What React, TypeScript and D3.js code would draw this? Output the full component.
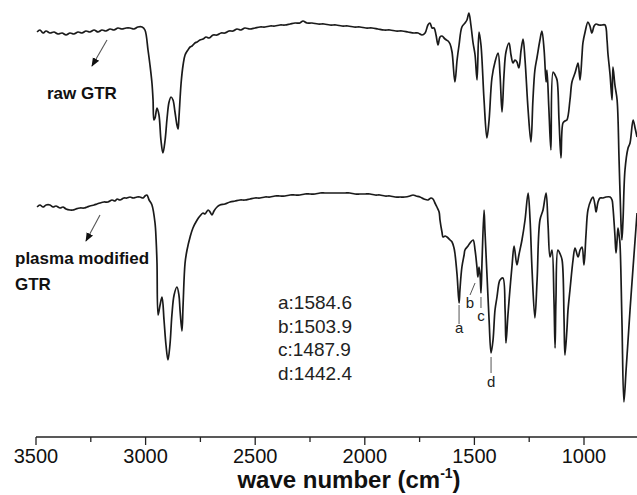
import React from "react";
import * as d3 from "d3";

// [wave number (cm^-1), transmittance (a.u.)]
const rawGTR: [number, number][] = [
  [3495,405],[3482,407],[3468,404],[3454,406],[3436,404],[3418,405],[3400,403],[3381,404],[3363,402],[3345,404],
  [3327,403],[3308,405],[3290,404],[3272,406],[3254,405],[3235,407],[3217,405],[3199,407],[3181,406],[3162,408],
  [3144,407],[3126,409],[3108,408],[3089,409],[3071,409],[3053,408],[3035,410],[3016,410],[3003,407],[2989,387],
  [2980,372],[2971,354],[2966,337],[2962,317],[2957,319],[2948,329],[2939,322],[2930,297],[2921,284],[2911,297],
  [2902,319],[2893,335],[2884,340],[2875,337],[2866,325],[2857,312],[2852,308],[2848,319],[2838,354],[2829,372],
  [2820,382],[2807,387],[2797,390],[2788,391],[2775,394],[2765,395],[2752,397],[2738,398],[2724,400],[2711,399],
  [2692,402],[2674,402],[2656,404],[2638,404],[2619,406],[2601,406],[2583,408],[2565,407],[2547,409],[2524,408],
  [2501,409],[2478,410],[2455,410],[2432,411],[2410,411],[2387,412],[2364,412],[2341,413],[2318,414],[2296,414],
  [2282,416],[2264,414],[2241,414],[2213,413],[2186,413],[2159,412],[2131,412],[2104,411],[2077,411],[2049,410],
  [2022,410],[1995,409],[1967,409],[1940,408],[1912,407],[1885,407],[1858,406],[1830,406],[1803,405],[1776,404],
  [1757,404],[1739,402],[1725,404],[1712,412],[1703,414],[1693,409],[1684,409],[1675,402],[1666,392],[1657,400],
  [1648,401],[1634,398],[1620,396],[1611,393],[1602,385],[1589,355],[1579,377],[1570,392],[1557,410],[1543,414],
  [1534,417],[1525,424],[1516,412],[1506,394],[1497,382],[1488,357],[1479,405],[1470,392],[1456,337],[1443,299],
  [1433,317],[1420,359],[1406,375],[1392,384],[1383,362],[1374,325],[1365,362],[1356,385],[1342,394],[1333,382],
  [1324,374],[1315,377],[1306,375],[1297,369],[1287,387],[1278,398],[1269,377],[1255,327],[1242,295],[1233,337],
  [1224,367],[1214,380],[1201,397],[1192,406],[1182,387],[1173,355],[1169,367],[1160,327],[1151,287],[1141,365],
  [1132,362],[1123,357],[1114,317],[1105,279],[1096,314],[1087,316],[1078,317],[1064,337],[1055,355],[1041,364],
  [1032,371],[1027,374],[1018,357],[1009,382],[1005,394],[995,405],[982,415],[973,411],[964,404],[954,411],
  [945,413],[932,412],[918,412],[904,412],[895,397],[891,384],[881,362],[872,337],[868,370],[859,352],
  [849,337],[840,277],[831,212],[827,197],[822,217],[813,267],[799,289],[790,294],[776,317],[767,309],[758,300],
];

const plasmaGTR: [number, number][] = [
  [3495,230],[3482,232],[3468,230],[3454,232],[3436,232],[3422,230],[3409,231],[3390,229],[3377,230],[3363,228],
  [3345,227],[3331,227],[3318,228],[3299,229],[3281,229],[3267,230],[3254,231],[3235,232],[3222,233],[3208,234],
  [3190,235],[3172,235],[3153,237],[3140,236],[3130,238],[3117,237],[3099,239],[3085,239],[3071,240],[3057,239],
  [3039,240],[3026,240],[3012,239],[3003,241],[2994,242],[2984,237],[2971,232],[2957,214],[2952,197],[2948,174],
  [2943,122],[2934,132],[2925,140],[2916,117],[2907,92],[2898,77],[2889,92],[2880,122],[2870,142],[2857,150],
  [2848,142],[2843,127],[2834,106],[2829,132],[2820,174],[2811,187],[2797,200],[2784,209],[2765,217],[2752,221],
  [2738,224],[2729,223],[2715,227],[2706,225],[2697,222],[2688,226],[2674,230],[2661,232],[2638,233],[2615,235],
  [2592,236],[2569,237],[2547,237],[2524,238],[2501,239],[2478,239],[2455,240],[2432,240],[2410,241],[2387,241],
  [2364,241],[2341,242],[2318,242],[2296,242],[2273,243],[2250,243],[2227,243],[2204,244],[2182,244],[2159,244],
  [2136,244],[2113,244],[2090,244],[2068,244],[2045,243],[2022,243],[1999,243],[1976,243],[1953,242],[1931,242],
  [1908,241],[1885,241],[1862,240],[1839,240],[1817,240],[1794,241],[1780,242],[1766,241],[1748,240],[1730,238],
  [1712,237],[1698,239],[1689,238],[1680,234],[1671,230],[1661,225],[1657,217],[1648,205],[1643,200],[1634,201],
  [1625,200],[1611,197],[1602,195],[1593,189],[1589,184],[1579,162],[1570,134],[1566,147],[1557,170],[1547,182],
  [1543,187],[1529,191],[1520,194],[1506,197],[1497,187],[1488,169],[1484,160],[1479,170],[1474,162],[1470,144],
  [1465,177],[1456,227],[1452,207],[1443,164],[1433,117],[1424,84],[1415,97],[1406,127],[1397,140],[1388,154],
  [1383,157],[1370,159],[1360,127],[1356,94],[1347,122],[1338,147],[1328,172],[1319,191],[1306,172],[1297,182],
  [1283,197],[1269,217],[1255,244],[1246,217],[1237,167],[1224,119],[1214,157],[1201,217],[1187,227],[1173,244],
  [1164,212],[1155,180],[1146,187],[1137,137],[1132,89],[1128,137],[1119,187],[1109,183],[1100,177],[1091,117],
  [1087,82],[1078,107],[1073,127],[1064,147],[1050,177],[1041,189],[1027,180],[1018,187],[1009,190],[1000,172],
  [991,202],[982,227],[968,237],[959,240],[950,232],[945,225],[936,235],[927,239],[913,239],[900,240],
  [881,240],[872,237],[868,230],[859,202],[854,184],[849,197],[845,209],[840,202],[836,194],[827,117],
  [818,35],[808,67],[799,97],[790,127],[776,170],[767,197],[758,224],
];

const majorTicks = [3500, 3000, 2500, 2000, 1500, 1000];
const minorTicks = [3250, 2750, 2250, 1750, 1250];

const peakLegend = ["a:1584.6", "b:1503.9", "c:1487.9", "d:1442.4"];

// marker letter, leader line [wave, value] -> [wave, value], label [wave, value]
const peakMarks: { letter: string; from: [number, number]; to: [number, number]; label: [number, number] }[] = [
  { letter: "a", from: [1570, 132], to: [1570, 113], label: [1570, 104] },
  { letter: "b", from: [1497, 154], to: [1520, 142], label: [1520, 129] },
  { letter: "c", from: [1470, 140], to: [1470, 129], label: [1470, 116] },
  { letter: "d", from: [1424, 80], to: [1424, 64], label: [1424, 50] },
];

const W = 637;
const H = 495;
const FONT = "'Liberation Sans', Arial, Helvetica, sans-serif";

export default function App() {
  const x = d3.scaleLinear().domain([3500, 1000]).range([36, 584]);
  const y = d3.scaleLinear().domain([0, 437]).range([437, 0]);
  const axisY = 437;

  const line = d3
    .line<[number, number]>()
    .x((d) => x(d[0]))
    .y((d) => y(d[1]))
    .curve(d3.curveCatmullRom.alpha(0.5));

  return (
    <svg
      width={W}
      height={H}
      viewBox={`0 0 ${W} ${H}`}
      style={{ position: "absolute", left: 0, top: 0, background: "#fff" }}
      fontFamily={FONT}
    >
      <defs>
        <marker id="arr" viewBox="0 0 10 10" refX="9" refY="5" markerWidth="9" markerHeight="9" orient="auto" markerUnits="userSpaceOnUse">
          <path d="M0,1 L10,5 L0,9 z" fill="#111" />
        </marker>
      </defs>
      <rect x={0} y={0} width={W} height={H} fill="#fff" />

      <path d={line(rawGTR) ?? ""} fill="none" stroke="#1a1a1a" strokeWidth={1.7} strokeLinejoin="round" />
      <path d={line(plasmaGTR) ?? ""} fill="none" stroke="#1a1a1a" strokeWidth={1.7} strokeLinejoin="round" />

      {/* peak markers */}
      {peakMarks.map((p) => (
        <g key={p.letter}>
          <line x1={x(p.from[0])} y1={y(p.from[1])} x2={x(p.to[0])} y2={y(p.to[1])} stroke="#555" strokeWidth={1} />
          <text x={x(p.label[0])} y={y(p.label[1])} textAnchor="middle" fontSize={15} fill="#222">
            {p.letter}
          </text>
        </g>
      ))}

      {/* peak legend */}
      {peakLegend.map((t, i) => (
        <text key={t} x={278} y={309 + i * 23.5} fontSize={19} fill="#222">
          {t}
        </text>
      ))}

      {/* sample labels */}
      <line x1={107} y1={40} x2={92} y2={66} stroke="#555" strokeWidth={1.1} markerEnd="url(#arr)" />
      <text x={47} y={99} fontSize={17} fontWeight="bold" fill="#111">raw GTR</text>
      <line x1={100} y1={215} x2={86} y2={241} stroke="#555" strokeWidth={1.1} markerEnd="url(#arr)" />
      <text x={15} y={264} fontSize={17} fontWeight="bold" fill="#111">plasma modified</text>
      <text x={15} y={290} fontSize={17} fontWeight="bold" fill="#111">GTR</text>

      {/* x axis */}
      <line x1={x(3500)} y1={axisY} x2={W} y2={axisY} stroke="#222" strokeWidth={1.3} />
      {majorTicks.map((t) => (
        <g key={t}>
          <line x1={x(t)} x2={x(t)} y1={axisY} y2={axisY + 8} stroke="#222" strokeWidth={1.3} />
          <text x={x(t)} y={axisY + 26} textAnchor="middle" fontSize={20} fill="#111">
            {t}
          </text>
        </g>
      ))}
      {minorTicks.map((t) => (
        <line key={t} x1={x(t)} x2={x(t)} y1={axisY} y2={axisY + 5} stroke="#222" strokeWidth={1.3} />
      ))}
      <text x={349} y={488} textAnchor="middle" fontSize={24} fontWeight="bold" fill="#111">
        wave number (cm
        <tspan fontSize={14} dy={-10}>-1</tspan>
        <tspan dy={10}>)</tspan>
      </text>
    </svg>
  );
}
